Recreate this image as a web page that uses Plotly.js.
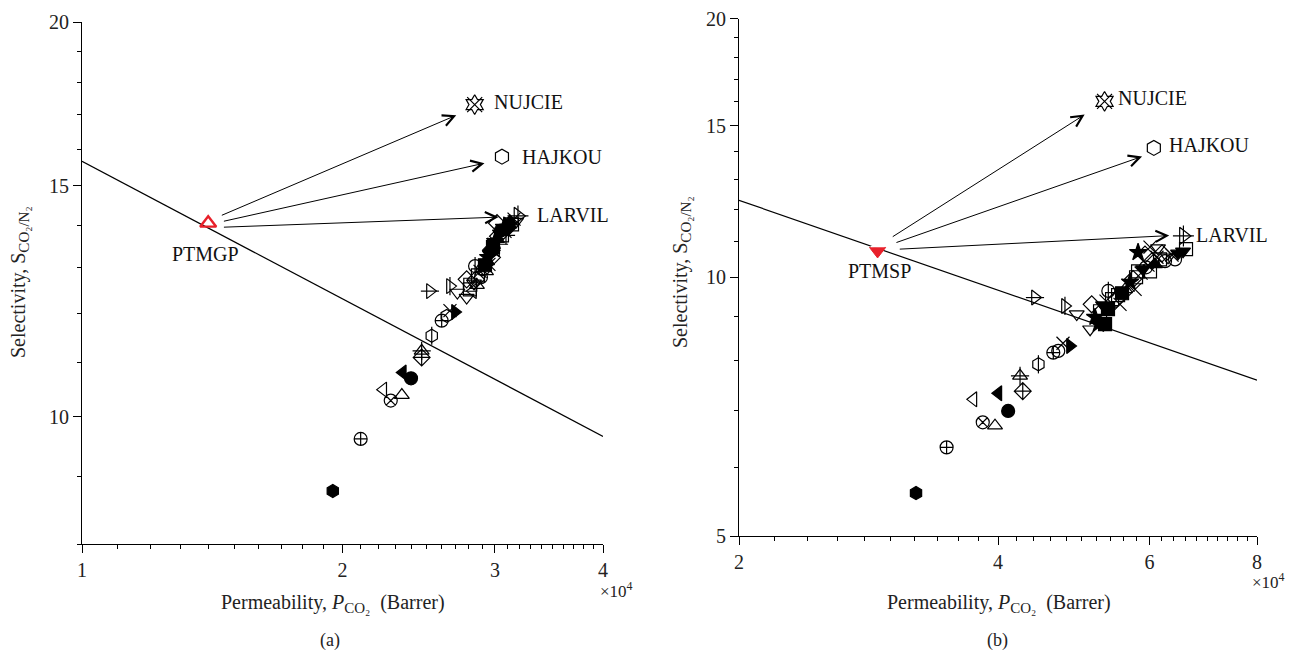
<!DOCTYPE html>
<html><head><meta charset="utf-8">
<script src="https://cdn.plot.ly/plotly-3.0.1.min.js"></script>
<style>html,body{margin:0;padding:0;background:#fff}#chart{width:1294px;height:654px}</style>
</head><body><div id="chart"></div>
<script>
// ---------- Panel (a): PTMGP-based structures ----------
// x: permeability (x10^4 Barrer), y: selectivity CO2/N2
const aX = [1.949,2.099,2.274,2.342,2.229,2.348,2.400,2.469,2.469,2.536,2.604,2.639,2.662,2.698,2.524,2.662,2.715,2.783,2.783,2.846,2.810,
  2.807,2.838,2.853,2.868,2.884,2.907,2.922,2.938,2.946,2.961,2.969,2.985,2.993,3.001,3.017,3.025,3.041,3.049,3.057,3.073,3.082,3.098,3.107,3.123,3.140,3.157,3.174,3.090,3.033,3.009,2.977,2.953,2.930,2.891,2.860,2.830,3.017];
const aY = [8.78,9.62,10.29,10.39,10.49,10.81,10.70,11.10,11.23,11.53,11.84,11.94,12.05,12.02,12.47,12.58,12.44,12.33,12.73,13.03,12.61,
  12.51,12.64,12.73,12.82,12.91,12.96,13.05,13.14,13.23,13.30,13.40,13.47,13.54,13.61,13.66,13.73,13.80,13.87,13.75,13.95,13.85,14.02,13.95,14.09,14.02,14.15,14.09,13.75,13.54,13.42,13.23,13.07,12.91,12.78,12.60,12.47,14.05];
const aMark = ['hexagon','circle-cross-open','circle-x-open','triangle-up-open','triangle-left-open','triangle-left','circle','diamond-cross-open','triangle-up-open+cross-thin-open','hexagon-open+line-ns-open','circle-cross-open','hexagon-open','x-thin-open','triangle-right','triangle-right-open+line-ew-open','triangle-right-open+line-ns-open','triangle-down-open','triangle-down-open','diamond-open','circle-open+line-ns-open','square-open',
  'square-open','triangle-down-open','diamond-open','square-open','x-thin-open','circle-open','square','triangle-up','star','triangle-down','diamond','square','x-thin-open','star','triangle-up','diamond-open','triangle-down','circle','square-open','star','x-thin-open','triangle-right','diamond','triangle-up','square-open','x-thin-open','triangle-down-open','cross-thin-open','cross-thin-open','triangle-left-open','diamond-open','x-thin-open','triangle-up-open','circle-open','triangle-up-open','triangle-left-open','diamond-open'];
const aNames = ['NUJCIE','HAJKOU','LARVIL'];
const aNamedX = [2.843,3.057,3.190];
const aNamedY = [17.30,15.79,14.23];
const aNamedMark = ['hexagram-open+x-thin-open','hexagon-open','triangle-right-open+cross-thin-open'];
const aRef = {name:'PTMGP', x:1.399, y:14.05};
const aBoundX = [1, 4];
const aBoundY = [15.66, 9.664];
// arrows: tail -> head
const aArrTailX = [1.445,1.453,1.453], aArrTailY = [14.23,14.09,13.95];
const aArrHeadX = [2.707,2.918,3.030], aArrHeadY = [16.98,15.61,14.20];
const aLabelX = [2.975,3.211,3.336], aLabelY = [17.39,15.79,14.26];
const aRefLabel = {x:1.388, y:13.31};

// ---------- Panel (b): PTMSP-based structures ----------
const bX = [3.212,3.486,3.840,3.968,3.745,4.004,4.110,4.274,4.243,4.457,4.638,4.700,4.760,4.850,4.416,4.785,4.938,5.118,5.140,5.374,5.232,
  5.186,5.256,5.298,5.341,5.428,5.487,5.516,5.575,5.620,5.666,5.696,5.742,5.788,5.819,5.866,5.897,5.944,5.976,6.008,6.040,6.089,6.121,6.171,6.204,6.254,6.305,6.373,6.424,6.476,6.563,6.616,5.819,6.008,6.138,5.928,5.773,5.545,5.369,5.256,5.327];
const bY = [5.61,6.34,6.78,6.72,7.21,7.33,6.99,7.37,7.68,7.92,8.17,8.21,8.38,8.32,9.47,9.26,9.06,8.70,9.30,9.64,8.82,
  8.985,9.13,9.28,9.38,9.43,9.43,9.53,9.58,9.68,9.79,9.87,9.95,10.00,10.16,10.11,10.22,10.27,10.33,10.16,10.44,10.35,10.55,10.49,10.66,10.44,10.55,10.61,10.49,10.66,10.72,10.78,10.69,10.84,10.81,10.63,9.68,9.30,9.18,8.89,8.82];
const bMark = ['hexagon','circle-cross-open','circle-x-open','triangle-up-open','triangle-left-open','triangle-left','circle','diamond-cross-open','triangle-up-open+cross-thin-open','hexagon-open+line-ns-open','circle-cross-open','circle-open','x-thin-open','triangle-right','triangle-right-open+line-ew-open','triangle-right-open+line-ns-open','triangle-down-open','triangle-down-open','diamond-open','circle-open+line-ns-open','star',
  'star','square-open','triangle-down','x-thin-open','square-open','diamond-open','square-open','square','triangle-up-open','x-thin-open','star','diamond-open','square-open','square-open','x-thin-open','triangle-down','circle-open','x-thin-open','square-open','diamond-open','triangle-up','x-thin-open','square-open','diamond-open','circle-open','triangle-down-open','x-thin-open','circle-open','triangle-down','triangle-down','square-open','star','x-thin-open','triangle-down-open','diamond-open','x-thin-open','x-thin-open','square','triangle-down','square'];
const bNames = ['NUJCIE','HAJKOU','LARVIL'];
const bNamedX = [5.32,6.07,6.57];
const bNamedY = [16.02,14.14,11.17];
const bNamedMark = ['hexagram-open+x-thin-open','hexagon-open','triangle-right-open+cross-thin-open'];
const bRef = {name:'PTMSP', x:2.898, y:10.73};
const bBoundX = [2, 8];
const bBoundY = [12.29, 7.59];
const bArrTailX = [3.006,3.036,3.063], bArrTailY = [11.12,10.96,10.78];
const bArrHeadX = [5.044,5.882,6.325], bArrHeadY = [15.46,13.82,11.18];
const bLabelX = [5.49,6.29,6.76], bLabelY = [16.16,14.25,11.21];
const bRefLabel = {x:2.916, y:10.17};

// ticks
const aXTicks = [1,2,3,4], aYTicks = [10,15,20];
const bXTicks = [2,4,6,8], bYTicks = [5,10,15,20];

// ---------- build ----------
const FONT = '"Liberation Serif","Times New Roman",serif';
const L = Math.log10;
const traces = [];
function markTraces(xs, ys, codes, xa, ya, size){
  const layers = [[],[]];
  codes.forEach((c,i)=>{ c.split('+').forEach((s,k)=>{ layers[k].push({x:xs[i], y:ys[i], s:s}); }); });
  layers.forEach(layer=>{
    if(!layer.length) return;
    traces.push({type:'scatter', mode:'markers', xaxis:xa, yaxis:ya, hoverinfo:'skip',
      x:layer.map(p=>p.x), y:layer.map(p=>p.y),
      marker:{symbol:layer.map(p=>p.s), size:size, color:'#000', line:{color:'#000', width:1.2}}});
  });
}
function panel(xa, ya, bx, by, X, Y, M, NX, NY, NM){
  traces.push({type:'scatter', mode:'lines', xaxis:xa, yaxis:ya, x:bx, y:by, line:{color:'#000', width:1.2}, hoverinfo:'skip'});
  markTraces(X, Y, M, xa, ya, 13);
  markTraces(NX, NY, NM, xa, ya, 15);
}
panel('x','y', aBoundX, aBoundY, aX, aY, aMark, aNamedX, aNamedY, aNamedMark);
panel('x2','y2', bBoundX, bBoundY, bX, bY, bMark, bNamedX, bNamedY, bNamedMark);
// reference polymers (red)
traces.push({type:'scatter', mode:'markers', xaxis:'x', yaxis:'y', x:[aRef.x], y:[aRef.y], hoverinfo:'skip',
  marker:{symbol:'triangle-up-open', size:14, color:'#e8202a', line:{color:'#e8202a', width:2.4}}});
traces.push({type:'scatter', mode:'markers', xaxis:'x2', yaxis:'y2', x:[bRef.x], y:[bRef.y], hoverinfo:'skip',
  marker:{symbol:'triangle-down', size:14, color:'#e8202a', line:{color:'#e8202a', width:1}}});
traces.push({type:'scatter', mode:'markers', xaxis:'x2', yaxis:'y2', x:[bRef.x], y:[bRef.y*1.012], hoverinfo:'skip',
  marker:{symbol:'line-ew-open', size:10, color:'#fff', line:{color:'#fff', width:1.5}}});

const ann = [];
function arrows(xa, ya, TX, TY, HX, HY, LX, LY, names, ref, refLab){
  for(let i=0;i<TX.length;i++){
    ann.push({xref:xa, yref:ya, axref:xa, ayref:ya, x:L(HX[i]), y:L(HY[i]), ax:L(TX[i]), ay:L(TY[i]),
      text:'', showarrow:true, arrowhead:5, arrowsize:2.2, arrowwidth:1, arrowcolor:'#000', standoff:0, startstandoff:0});
    ann.push({xref:xa, yref:ya, x:L(LX[i]), y:L(LY[i]), text:names[i], showarrow:false, xanchor:'left', yanchor:'middle',
      font:{family:FONT, size:20, color:'#111'}});
  }
  ann.push({xref:xa, yref:ya, x:L(refLab.x), y:L(refLab.y), text:ref.name, showarrow:false, xanchor:'center', yanchor:'middle',
    font:{family:FONT, size:20, color:'#111'}});
}
arrows('x','y', aArrTailX, aArrTailY, aArrHeadX, aArrHeadY, aLabelX, aLabelY, aNames, aRef, aRefLabel);
arrows('x2','y2', bArrTailX, bArrTailY, bArrHeadX, bArrHeadY, bLabelX, bLabelY, bNames, bRef, bRefLabel);

const W = 1294, H = 654;
const ytitle = 'Selectivity, S<sub><span style="font-size:15px">CO₂/N₂</span></sub>';
const xtitle = 'Permeability, <i>P</i><sub><span style="font-size:15px">CO₂</span></sub>  (Barrer)';
[[19, 282],[681, 272]].forEach(p=>ann.push({xref:'paper', yref:'paper', x:p[0]/W, y:1-p[1]/H, text:ytitle, textangle:-90, showarrow:false,
  xanchor:'center', yanchor:'middle', font:{family:FONT, size:20, color:'#222'}}));
[[333, 603],[999, 603]].forEach(p=>ann.push({xref:'paper', yref:'paper', x:p[0]/W, y:1-p[1]/H, text:xtitle, showarrow:false,
  xanchor:'center', yanchor:'middle', font:{family:FONT, size:20, color:'#222'}}));
[[598, 590],[1250, 581]].forEach(p=>ann.push({xref:'paper', yref:'paper', x:p[0]/W, y:1-p[1]/H, text:'×10<sup>4</sup>', showarrow:false,
  xanchor:'left', yanchor:'middle', font:{family:FONT, size:17, color:'#222'}}));
[['(a)',330],['(b)',997]].forEach(p=>ann.push({xref:'paper', yref:'paper', x:p[1]/W, y:1-640/H, text:p[0], showarrow:false,
  xanchor:'center', yanchor:'middle', font:{family:FONT, size:18, color:'#222'}}));

function minorVals(lo, hi, step, major){
  const v=[]; for(let t=lo; t<=hi+1e-9; t+=step){ const r=Math.round(t*100)/100; if(!major.some(m=>Math.abs(m-r)<1e-6)) v.push(r);} return v;
}
function axis(dom, range, ticks, minor, anchor){
  return {type:'log', domain:dom, range:range, anchor:anchor, tickmode:'array', tickvals:ticks, ticktext:ticks.map(String),
    ticks:'outside', ticklen:8, tickwidth:1, tickcolor:'#000', showline:true, linecolor:'#000', linewidth:1,
    showgrid:false, zeroline:false, tickfont:{family:FONT, size:20, color:'#222'},
    minor:{tickmode:'array', tickvals:minor, ticks:'outside', ticklen:4, tickwidth:1, tickcolor:'#000', showgrid:false}};
}
const layout = {
  width:W, height:H, margin:{l:0,r:0,t:0,b:0}, paper_bgcolor:'#fff', plot_bgcolor:'#fff', showlegend:false,
  font:{family:FONT, size:18, color:'#222'},
  xaxis: axis([82/W, 603/W], [0, L(4)], aXTicks, minorVals(1,4,0.1,aXTicks), 'y'),
  yaxis: axis([1-544/H, 1-22/H], [L(8), L(20)], aYTicks, minorVals(8,20,1,aYTicks), 'x'),
  xaxis2: axis([739/W, 1257/W], [L(2), L(8)], bXTicks, minorVals(2,8,0.2,bXTicks), 'y2'),
  yaxis2: axis([1-536/H, 1-18.5/H], [L(5), L(20)], bYTicks, minorVals(5,20,1,bYTicks), 'x2'),
  annotations: ann
};
Plotly.newPlot('chart', traces, layout, {staticPlot:true, displayModeBar:false});
</script></body></html>
